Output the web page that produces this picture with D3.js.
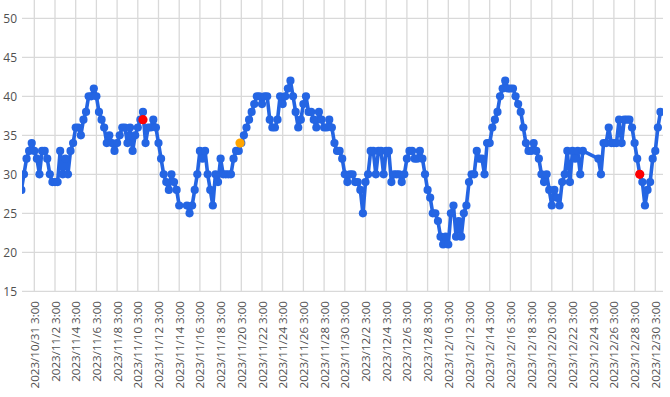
<!DOCTYPE html>
<html>
<head>
<meta charset="utf-8">
<script src="https://cdn.jsdelivr.net/npm/d3@7"></script>
<style>
  html, body { margin: 0; padding: 0; background: #fff; }
  svg { display: block; }
  text { font-family: "Open Sans", "Noto Sans", sans-serif; fill: #505050; }
</style>
</head>
<body>
<svg id="chart" width="670" height="397"></svg>
<script>
// ---- data ----
const tickLabels = [
  "2023/10/31 3:00","2023/11/2 3:00","2023/11/4 3:00","2023/11/6 3:00","2023/11/8 3:00",
  "2023/11/10 3:00","2023/11/12 3:00","2023/11/14 3:00","2023/11/16 3:00","2023/11/18 3:00",
  "2023/11/20 3:00","2023/11/22 3:00","2023/11/24 3:00","2023/11/26 3:00","2023/11/28 3:00",
  "2023/11/30 3:00","2023/12/2 3:00","2023/12/4 3:00","2023/12/6 3:00","2023/12/8 3:00",
  "2023/12/10 3:00","2023/12/12 3:00","2023/12/14 3:00","2023/12/16 3:00","2023/12/18 3:00",
  "2023/12/20 3:00","2023/12/22 3:00","2023/12/24 3:00","2023/12/26 3:00","2023/12/28 3:00",
  "2023/12/30 3:00"
];
const yTicks = [15, 20, 25, 30, 35, 40, 45, 50];

const seriesStart = "2023/10/29 21:00";
const stepHours = 6;
const values = [
  28,
  30,32,33,34,33,32,30,33,33,32,
  30,29,29,29,33,30,32,30,33,34,
  36,36,35,37,38,40,40,41,40,38,
  37,36,34,35,34,33,34,35,36,36,
  34,36,33,35,36,37,38,34,36,36,
  37,36,34,32,30,29,28,30,29,28,
  26,null,null,26,25,26,28,30,33,32,
  33,30,28,26,30,29,32,30,30,30,
  30,32,33,33,34,35,36,37,38,39,
  40,40,39,40,40,37,36,36,37,40,
  39,40,41,42,40,38,36,37,39,40,
  38,38,37,36,38,37,36,36,37,36,
  34,33,33,32,30,29,30,30,29,29,
  28,25,29,30,33,33,30,33,33,30,
  33,33,29,30,30,30,29,30,32,33,
  33,32,32,33,32,30,28,27,25,25,
  24,22,21,22,21,25,26,22,24,22,
  25,26,29,30,30,33,32,32,30,34,
  34,36,37,38,40,41,42,41,41,41,
  40,39,38,36,34,33,33,34,33,32,
  30,29,30,28,26,28,27,26,29,30,
  33,29,33,32,33,30,33,null,null,null,
  null,null,32,30,34,34,36,34,34,34,
  37,34,37,37,37,36,34,32,30,29,
  26,28,29,32,33,36,38
];

const redTimes = ["2023/11/10 15:00", "2023/12/28 15:00"];
const redValues = [37, 30];
const orangeTimes = ["2023/11/20 0:00"];
const orangeValues = [34];

// ---- chart ----
(function () {
const parse = d3.utcParse("%Y/%m/%d %H:%M");
const svg = d3.select("#chart");
const pLeft = 22, pRight = 663, pTop = 0, pBottom = 291.3;

const tickDates = tickLabels.map(parse);
const x = d3.scaleUtc()
  .domain([tickDates[0], tickDates[tickDates.length - 1]])
  .range([34.3, 655.3]);
const y = d3.scaleLinear().domain([15, 50]).range([291.3, 18.3]);

const t0 = parse(seriesStart).getTime();
const data = values.map((v, i) => ({ t: new Date(t0 + i * stepHours * 3600e3), v }))
  .filter(d => d.v !== null);

// gridlines
const grid = svg.append("g");
grid.selectAll("line.h").data(yTicks).join("line")
  .attr("class", "h")
  .attr("x1", pLeft).attr("x2", pRight)
  .attr("y1", d => y(d)).attr("y2", d => y(d))
  .attr("stroke", "#d9d9d9").attr("stroke-width", 1.3);
grid.selectAll("line.v").data(tickDates).join("line")
  .attr("class", "v")
  .attr("x1", d => x(d)).attr("x2", d => x(d))
  .attr("y1", pTop).attr("y2", pBottom)
  .attr("stroke", "#d9d9d9").attr("stroke-width", 1.3);

// y labels
svg.append("g").selectAll("text").data(yTicks).join("text")
  .attr("x", 17).attr("y", d => y(d))
  .attr("text-anchor", "end").attr("dominant-baseline", "central")
  .style("font-size", "12px")
  .text(d => d);

// x labels
svg.append("g").selectAll("text").data(tickDates).join("text")
  .attr("transform", (d) => `translate(${x(d)},301) rotate(-90)`)
  .attr("text-anchor", "end").attr("dominant-baseline", "central")
  .style("font-size", "11.6px")
  .text((d, i) => tickLabels[i]);

// clip
svg.append("clipPath").attr("id", "plotclip").append("rect")
  .attr("x", pLeft).attr("y", pTop).attr("width", pRight - pLeft).attr("height", pBottom - pTop + 6);

const plot = svg.append("g").attr("clip-path", "url(#plotclip)");
const blue = "#2465E3";
plot.append("path").datum(data)
  .attr("fill", "none").attr("stroke", blue).attr("stroke-width", 3.6)
  .attr("stroke-linejoin", "round")
  .attr("d", d3.line().x(d => x(d.t)).y(d => y(d.v)));
plot.selectAll("circle.m").data(data).join("circle")
  .attr("class", "m")
  .attr("cx", d => x(d.t)).attr("cy", d => y(d.v)).attr("r", 4.1)
  .attr("fill", blue);

plot.selectAll("circle.r").data(redTimes).join("circle")
  .attr("class", "r")
  .attr("cx", d => x(parse(d))).attr("cy", (d, i) => y(redValues[i])).attr("r", 4.6)
  .attr("fill", "#ff0000");
plot.selectAll("circle.o").data(orangeTimes).join("circle")
  .attr("class", "o")
  .attr("cx", d => x(parse(d))).attr("cy", (d, i) => y(orangeValues[i])).attr("r", 4.6)
  .attr("fill", "#ffa500");
})();
</script>
</body>
</html>
